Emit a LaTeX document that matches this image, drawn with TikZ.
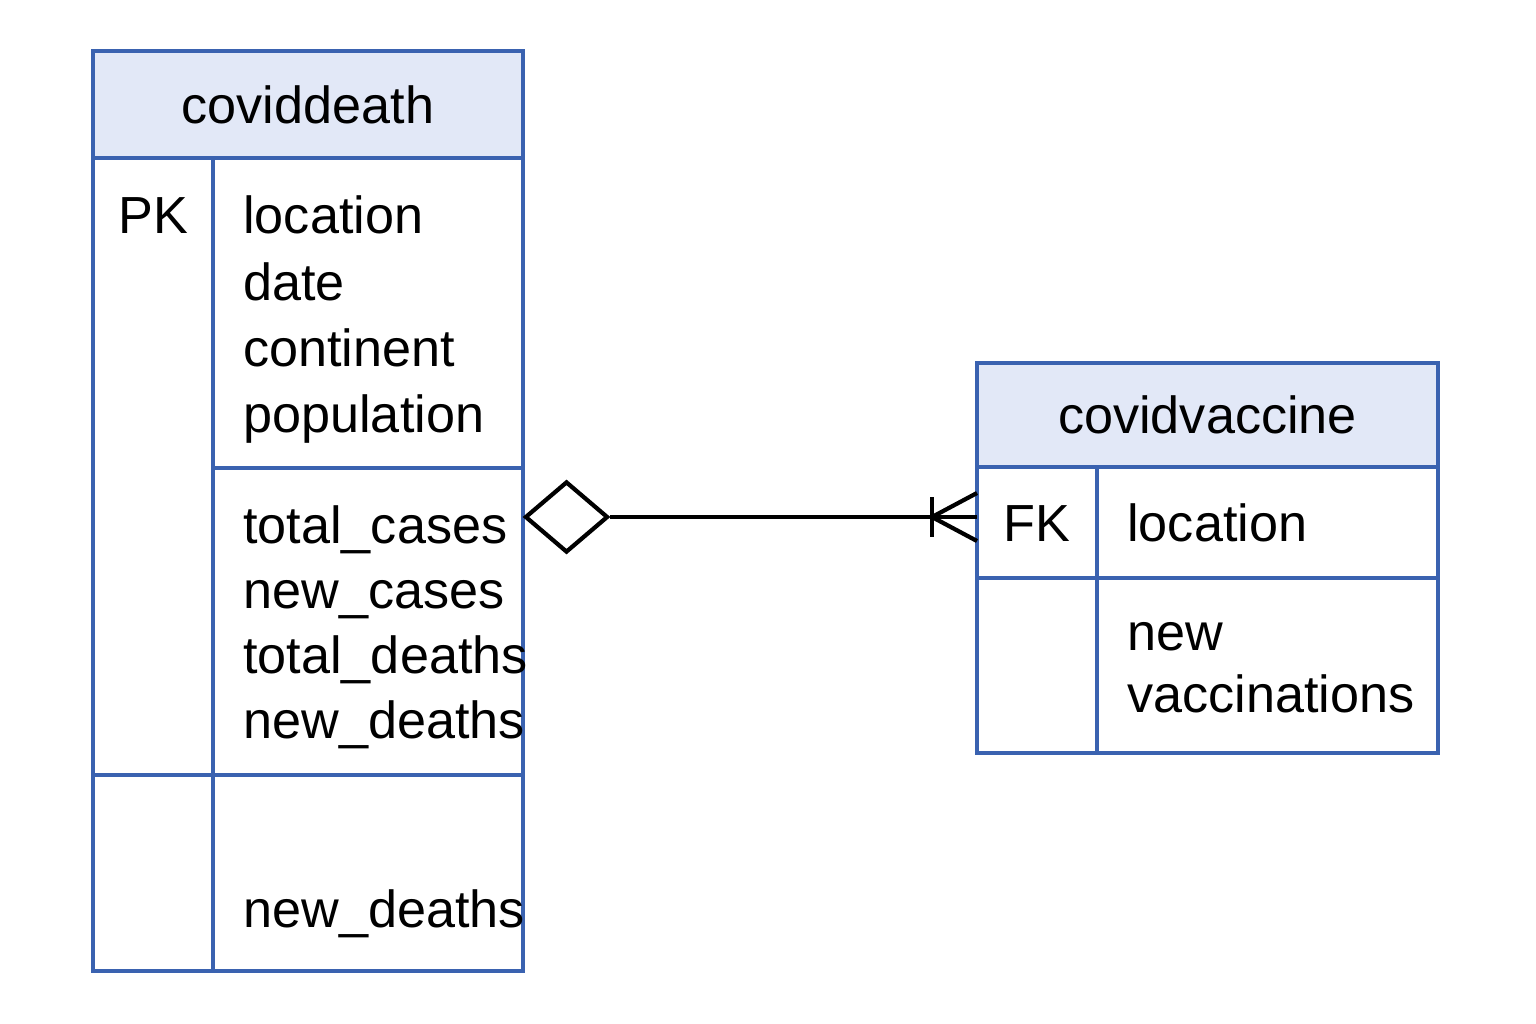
\documentclass[tikz,border=0pt]{standalone}
\usepackage{fontspec}
\setmainfont{Liberation Sans}
\usetikzlibrary{shapes.geometric}
\definecolor{tblue}{RGB}{58, 98, 176}
\definecolor{thead}{RGB}{226, 232, 247}

\begin{document}
\begin{tikzpicture}[x=0.02cm, y=-0.02cm, font=\fontsize{29.7}{36}\selectfont,
    tline/.style={draw=tblue, line width=1.8pt},
    thdr/.style={tline, fill=thead, inner sep=0pt},
    fld/.style={anchor=base west, inner sep=0pt},
    rel/.style={draw=black, line width=2.4pt}]
  \useasboundingbox (0,0) rectangle (1536,1024);
  % coviddeath table
  \node[thdr, minimum width=8.6cm, minimum height=2.14cm] (death) at (308,104.5) {coviddeath};
  \draw[tline] (93,158) rectangle (523,971);
  \draw[tline] (213,158) -- (213,971);
  \draw[tline] (213,468) -- (523,468);
  \draw[tline] (93,775) -- (523,775);
  \node[fld] (pk) at (118,234) {PK};
  \node[fld] (dloc) at (243,234) {location};
  \node[fld] (ddate) at (243,300) {date};
  \node[fld] (dcont) at (243,366) {continent};
  \node[fld] (dpop) at (243,432) {population};
  \node[fld] (dtc) at (243,543) {total\_cases};
  \node[fld] (dnc) at (243,608) {new\_cases};
  \node[fld] (dtd) at (243,673) {total\_deaths};
  \node[fld] (dnd) at (243,738) {new\_deaths};
  \node[fld] (dnd2) at (243,927) {new\_deaths};
  % covidvaccine table
  \node[thdr, minimum width=9.22cm, minimum height=2.08cm] (vacc) at (1207.5,415) {covidvaccine};
  \draw[tline] (977,467) rectangle (1438,753);
  \draw[tline] (1097,467) -- (1097,753);
  \draw[tline] (977,578) -- (1438,578);
  \node[fld] (fk) at (1003,541) {FK};
  \node[fld] (vloc) at (1127,541) {location};
  \node[fld] (vnew) at (1127,650) {new};
  \node[fld] (vvac) at (1127,712) {vaccinations};
  % relation
  \node[diamond, rel, fill=white, inner sep=0pt, minimum width=1.66cm, minimum height=1.42cm] (dia) at (566.5,517) {};
  \coordinate (fkend) at (977,517);
  \coordinate (crow) at (932,517);
  \draw[rel] (dia.east) -- (fkend);
  \draw[rel] (932,497) -- (932,537);
  \draw[rel] (977,493) -- (crow) -- (977,541);
\end{tikzpicture}
\end{document}
